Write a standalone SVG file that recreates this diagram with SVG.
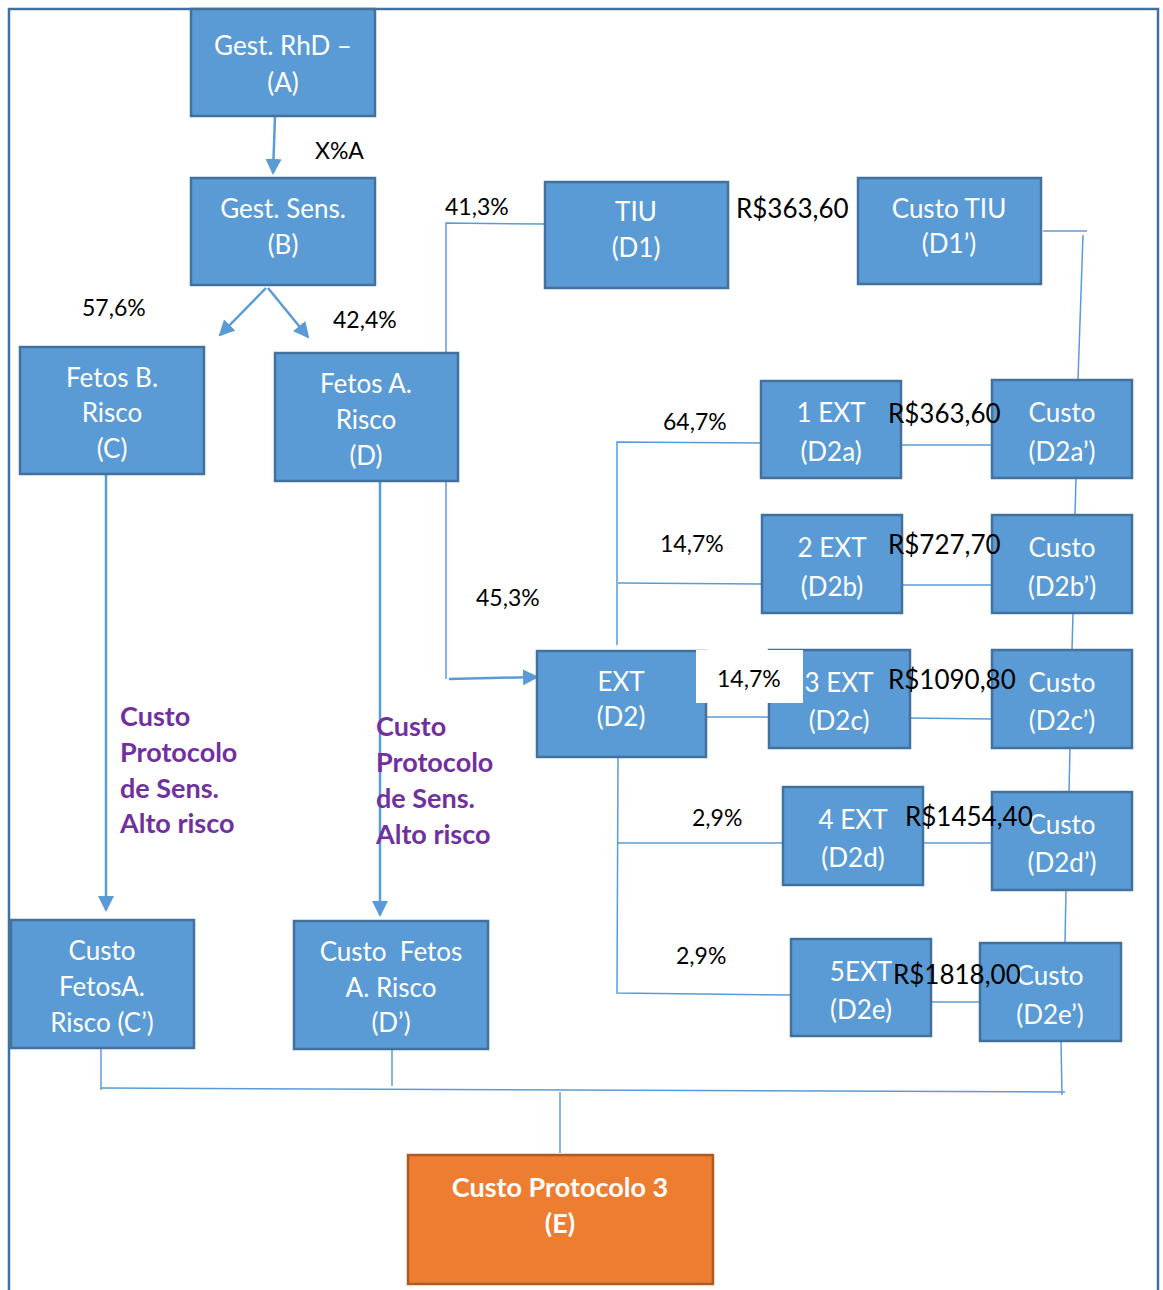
<svg xmlns="http://www.w3.org/2000/svg" width="1163" height="1290" viewBox="0 0 1163 1290">
  <style>
    .box { fill: #5B9BD5; stroke: #41719C; stroke-width: 2.5; }
    .tot { fill: #ED7D31; stroke: #AE5A21; stroke-width: 2.5; }
    .nt { font-family: Lato, "Open Sans", sans-serif; font-size: 26px; fill: #FFFFFF; text-anchor: middle; dominant-baseline: central; }
    .et { font-family: Lato, "Open Sans", sans-serif; font-size: 27px; font-weight: bold; fill: #FFFFFF; text-anchor: middle; dominant-baseline: central; }
    .lb { font-family: Lato, "Open Sans", sans-serif; font-size: 23px; fill: #000000; dominant-baseline: central; }
    .cost { font-size: 26px; }
    .pr { font-family: Lato, "Open Sans", sans-serif; font-size: 27px; font-weight: bold; fill: #7030A0; dominant-baseline: central; }
    .ln { fill: none; stroke: #5B9BD5; stroke-width: 1.5; }
    .ar { fill: none; stroke: #5B9BD5; stroke-width: 2.5; marker-end: url(#head); }
  </style>
  <defs>
    <marker id="head" markerUnits="userSpaceOnUse" markerWidth="16" markerHeight="16" viewBox="0 0 16 16" refX="14" refY="8" orient="auto">
      <path d="M0,0 L16,8 L0,16 Z" fill="#5B9BD5"/>
    </marker>
  </defs>

  <!-- outer frame -->
  <path d="M9,1290 L9,9 L1158,9 L1158,1290" fill="none" stroke="#41719C" stroke-width="2.5"/>

  <!-- connectors -->
  <g id="connectors">
    <path class="ar" d="M275,116 L273,173"/>
    <path class="ar" d="M266,288 L220,335"/>
    <path class="ar" d="M268,288 L308,337"/>
    <path class="ar" d="M106,474 L106,910"/>
    <path class="ar" d="M380,481 L380,915"/>
    <!-- D to TIU -->
    <path class="ln" d="M446,353 L446,223 L545,224"/>
    <!-- D to EXT -->
    <path class="ln" d="M446,481 L446,679"/>
    <path class="ar" d="M449,679 L537,677"/>
    <!-- cost chain on the right -->
    <path class="ln" d="M1043,231 L1087,231"/>
    <path class="ln" d="M1083,235 L1078,380"/>
    <path class="ln" d="M1076,478 L1075,515"/>
    <path class="ln" d="M1073,613 L1072,650"/>
    <path class="ln" d="M1070,748 L1069,792"/>
    <path class="ln" d="M1066,890 L1065,943"/>
    <path class="ln" d="M1061,1041 L1062,1095"/>
    <!-- EXT branches -->
    <path class="ln" d="M617,645 L617,442 L761,443"/>
    <path class="ln" d="M618,583 L762,584"/>
    <path class="ln" d="M706,717 L769,717"/>
    <path class="ln" d="M618,757 L617,993 L791,995"/>
    <path class="ln" d="M618,843 L783,843"/>
    <!-- branch to cost -->
    <path class="ln" d="M901,445 L992,445"/>
    <path class="ln" d="M902,585 L992,585"/>
    <path class="ln" d="M910,718 L992,719"/>
    <path class="ln" d="M923,843 L992,843"/>
    <path class="ln" d="M931,1002 L980,1002"/>
    <!-- collector to total -->
    <path class="ln" d="M101,1049 L101,1090"/>
    <path class="ln" d="M392,1049 L392,1086"/>
    <path class="ln" d="M101,1088 L1065,1092"/>
    <path class="ln" d="M560,1092 L560,1153"/>
  </g>

  <g id="nA"><rect class="box" x="191" y="9" width="184" height="107"/>
    <text class="nt" x="283" y="45">Gest. RhD –</text><text class="nt" x="283" y="82">(A)</text></g>
  <g id="nB"><rect class="box" x="191" y="178" width="184" height="107"/>
    <text class="nt" x="283" y="208">Gest. Sens.</text><text class="nt" x="283" y="244">(B)</text></g>
  <g id="nC"><rect class="box" x="20" y="347" width="184" height="127"/>
    <text class="nt" x="112" y="377">Fetos B.</text><text class="nt" x="112" y="412">Risco</text><text class="nt" x="112" y="448">(C)</text></g>
  <g id="nD"><rect class="box" x="275" y="353" width="183" height="128"/>
    <text class="nt" x="366" y="383">Fetos A.</text><text class="nt" x="366" y="419">Risco</text><text class="nt" x="366" y="455">(D)</text></g>
  <g id="nD1"><rect class="box" x="545" y="182" width="183" height="106"/>
    <text class="nt" x="636" y="211">TIU</text><text class="nt" x="636" y="247">(D1)</text></g>
  <g id="nD1c"><rect class="box" x="858" y="178" width="183" height="106"/>
    <text class="nt" x="949" y="208">Custo TIU</text><text class="nt" x="949" y="243">(D1’)</text></g>
  <g id="nD2"><rect class="box" x="537" y="651" width="169" height="106"/>
    <text class="nt" x="621" y="681">EXT</text><text class="nt" x="621" y="716">(D2)</text></g>
  <g id="nD2a"><rect class="box" x="761" y="381" width="140" height="97"/>
    <text class="nt" x="831" y="412">1 EXT</text><text class="nt" x="831" y="451">(D2a)</text></g>
  <g id="nD2ac"><rect class="box" x="992" y="380" width="140" height="98"/>
    <text class="nt" x="1062" y="412">Custo</text><text class="nt" x="1062" y="451">(D2a’)</text></g>
  <g id="nD2b"><rect class="box" x="762" y="515" width="140" height="98"/>
    <text class="nt" x="832" y="547">2 EXT</text><text class="nt" x="832" y="586">(D2b)</text></g>
  <g id="nD2bc"><rect class="box" x="992" y="515" width="140" height="98"/>
    <text class="nt" x="1062" y="547">Custo</text><text class="nt" x="1062" y="586">(D2b’)</text></g>
  <g id="nD2c"><rect class="box" x="769" y="650" width="141" height="98"/>
    <text class="nt" x="839" y="682">3 EXT</text><text class="nt" x="839" y="720">(D2c)</text></g>
  <g id="nD2cc"><rect class="box" x="992" y="650" width="140" height="98"/>
    <text class="nt" x="1062" y="682">Custo</text><text class="nt" x="1062" y="720">(D2c’)</text></g>
  <g id="nD2d"><rect class="box" x="783" y="787" width="140" height="98"/>
    <text class="nt" x="853" y="819">4 EXT</text><text class="nt" x="853" y="857">(D2d)</text></g>
  <g id="nD2dc"><rect class="box" x="992" y="792" width="140" height="98"/>
    <text class="nt" x="1062" y="824">Custo</text><text class="nt" x="1062" y="862">(D2d’)</text></g>
  <g id="nD2e"><rect class="box" x="791" y="939" width="140" height="97"/>
    <text class="nt" x="861" y="971">5EXT</text><text class="nt" x="861" y="1009">(D2e)</text></g>
  <g id="nD2ec"><rect class="box" x="980" y="943" width="141" height="98"/>
    <text class="nt" x="1050" y="975">Custo</text><text class="nt" x="1050" y="1014">(D2e’)</text></g>
  <g id="nCc"><rect class="box" x="11" y="920" width="183" height="128"/>
    <text class="nt" x="102" y="950">Custo</text><text class="nt" x="102" y="986">FetosA.</text><text class="nt" x="102" y="1022">Risco (C’)</text></g>
  <g id="nDc"><rect class="box" x="294" y="921" width="194" height="128"/>
    <text class="nt" x="391" y="951" xml:space="preserve">Custo  Fetos</text><text class="nt" x="391" y="987">A. Risco</text><text class="nt" x="391" y="1022">(D’)</text></g>
  <g id="nE"><rect class="tot" x="408" y="1155" width="305" height="129"/>
    <text class="et" x="560" y="1186">Custo Protocolo 3</text><text class="et" x="560" y="1222">(E)</text></g>

  <!-- branch labels -->
  <g id="labels">
    <text class="lb" x="315" y="150">X%A</text>
    <text class="lb" x="82" y="307">57,6%</text>
    <text class="lb" x="333" y="319">42,4%</text>
    <text class="lb" x="445" y="206">41,3%</text>
    <text class="lb cost" x="736" y="208">R$363,60</text>
    <text class="lb" x="663" y="421">64,7%</text>
    <text class="lb" x="660" y="543">14,7%</text>
    <text class="lb" x="476" y="597">45,3%</text>
    <rect x="696" y="650" width="107" height="53" fill="#FFFFFF"/>
    <text class="lb" x="717" y="678">14,7%</text>
    <text class="lb" x="692" y="817">2,9%</text>
    <text class="lb" x="676" y="955">2,9%</text>
    <text class="lb cost" x="888" y="413">R$363,60</text>
    <text class="lb cost" x="888" y="544">R$727,70</text>
    <text class="lb cost" x="888" y="679">R$1090,80</text>
    <text class="lb cost" x="905" y="816">R$1454,40</text>
    <text class="lb cost" x="893" y="974">R$1818,00</text>
  </g>

  <g id="protocol-notes">
    <text class="pr" x="120" y="715">Custo</text>
    <text class="pr" x="120" y="751">Protocolo</text>
    <text class="pr" x="120" y="787">de Sens.</text>
    <text class="pr" x="120" y="822">Alto risco</text>
    <text class="pr" x="376" y="725">Custo</text>
    <text class="pr" x="376" y="761">Protocolo</text>
    <text class="pr" x="376" y="797">de Sens.</text>
    <text class="pr" x="376" y="833">Alto risco</text>
  </g>
</svg>
